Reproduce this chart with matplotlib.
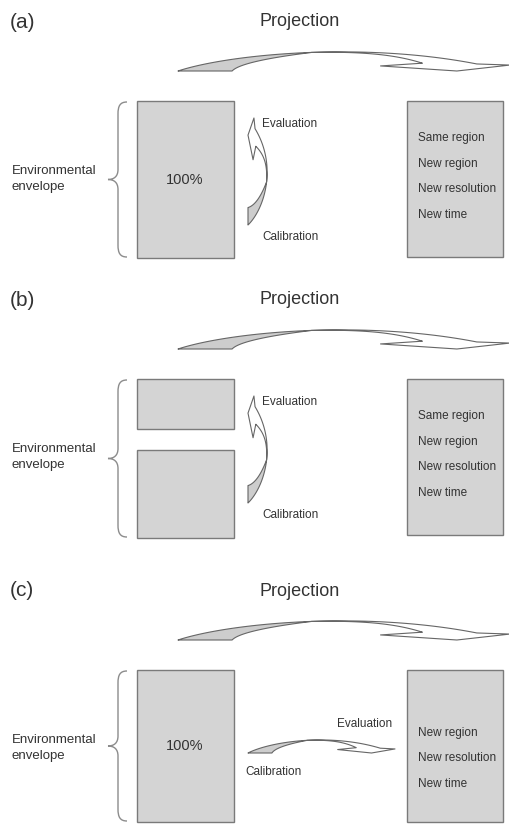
import numpy as np
import matplotlib.pyplot as plt
from matplotlib.patches import Rectangle, Polygon, PathPatch
from matplotlib.path import Path

plt.rcParams['font.family'] = ['Liberation Sans', 'DejaVu Sans']

# panel layout (pixel units, y down)
panel_labels = ['(a)', '(b)', '(c)']
panel_offsets = [0, 278, 569]
# left column: environmental envelope split into boxes (top, bottom)
left_boxes = [[(101, 258)], [(101, 151), (172, 260)], [(101, 253)]]
left_box_text = ['100%', '', '100%']
right_box_bottom = [257, 257, 253]
target_items = [['Same region', 'New region', 'New resolution', 'New time'],
                ['Same region', 'New region', 'New resolution', 'New time'],
                ['New region', 'New resolution', 'New time']]
calib_style = ['vertical', 'vertical', 'horizontal']

TXT = '#333333'
EDGE = '#7a7a7a'
BOXFILL = '#d4d4d4'
ARROWFILL = '#cdcdcd'


def bez(p, n=120):
    p = np.asarray(p, float)
    t = np.linspace(0, 1, n)[:, None]
    if len(p) == 3:
        return (1-t)**2*p[0] + 2*t*(1-t)*p[1] + t**2*p[2]
    return (1-t)**3*p[0] + 3*t*(1-t)**2*p[1] + 3*t**2*(1-t)*p[2] + t**3*p[3]


def ribbon_shape():
    # normalized curved arrow: u along length, v = bulge
    outer = bez([(0, 0), (0.15, 0.75), (0.55, 1.35), (0.9, 0.32)], 300)
    im = np.argmax(outer[:, 0] >= 0.40)
    M = outer[im]
    inner = bez([(0.163, 0), (0.19, 0.45), M], 80)
    gray = np.vstack([outer[:im + 1], inner[::-1]])
    tail = outer[im:]
    # lower edge of the white ribbon: hugs the top, then drops to the fold
    jf = np.argmax(outer[:, 0] >= 0.735)
    seg = outer[im:jf + 1]
    s = np.linspace(0, 1, len(seg))
    lower = np.column_stack([seg[:, 0], seg[:, 1] - (0.05 * np.sin(np.pi * s / 2)
                                                       + 0.28 * s ** 4)])
    head = np.array([(1.0, 0.27), (0.84, 0.0), (0.61, 0.23), lower[-1]])
    white = np.vstack([tail, head, lower[::-1]])
    return gray, white


GRAY_UV, WHITE_UV = ribbon_shape()


def draw_ribbon(ax, origin, eu, ev):
    o = np.asarray(origin, float)
    eu = np.asarray(eu, float)
    ev = np.asarray(ev, float)
    for uv, fc in [(GRAY_UV, ARROWFILL), (WHITE_UV, 'white')]:
        pts = o + uv[:, :1] * eu + uv[:, 1:] * ev
        ax.add_patch(Polygon(pts, closed=True, fc=fc, ec='#666666', lw=0.8,
                             joinstyle='round'))


def draw_brace(ax, yt, yb, xe=127, xm=118, xt=108):
    ym = (yt + yb) / 2
    verts = [(xe, yt), (xm + 2, yt), (xm, yt + 4), (xm, yt + 12),
             (xm, ym - 10),
             (xm, ym - 3), (xm - 4, ym), (xt, ym),
             (xm - 4, ym), (xm, ym + 3), (xm, ym + 10),
             (xm, yb - 12),
             (xm, yb - 4), (xm + 2, yb), (xe, yb)]
    codes = [Path.MOVETO] + [Path.CURVE4] * 3 + [Path.LINETO] + [Path.CURVE4] * 6 \
        + [Path.LINETO] + [Path.CURVE4] * 3
    ax.add_patch(PathPatch(Path(verts, codes), fc='none', ec='#8c8c8c', lw=1.0))


fig = plt.figure(figsize=(5.1, 8.26), dpi=100)
ax = fig.add_axes([0, 0, 1, 1])
ax.set_xlim(0, 510)
ax.set_ylim(826, 0)
ax.axis('off')

for i, off in enumerate(panel_offsets):
    ax.text(10, 22 + off, panel_labels[i], fontsize=15, color=TXT, va='center', ha='left')
    ax.text(300, 22 + off, 'Projection', fontsize=13, color=TXT, va='center', ha='center')
    draw_ribbon(ax, (178, 71 + off), (332, 0), (0, -22))

    # environmental envelope boxes
    for top, bot in left_boxes[i]:
        ax.add_patch(Rectangle((137, top + off), 97, bot - top, fc=BOXFILL, ec=EDGE, lw=1))
    tops = [b[0] for b in left_boxes[i]]
    bots = [b[1] for b in left_boxes[i]]
    if left_box_text[i]:
        ax.text(185, (tops[0] + bots[-1]) / 2 + off, left_box_text[i], fontsize=10.5,
                color=TXT, ha='center', va='center')
    draw_brace(ax, min(tops) + 1 + off, max(bots) - 1 + off)
    ax.text(12, 179 + off, 'Environmental\nenvelope', fontsize=9.5, color=TXT,
            ha='left', va='center', linespacing=1.35)

    # target box
    ax.add_patch(Rectangle((407, 101 + off), 96, right_box_bottom[i] - 101,
                           fc=BOXFILL, ec=EDGE, lw=1))
    items = target_items[i]
    for j, item in enumerate(items):
        y = 215 - 25.7 * (len(items) - 1 - j)
        ax.text(418, y + off, item, fontsize=8.5, color=TXT, ha='left', va='center')

    # calibration / evaluation arrow
    if calib_style[i] == 'vertical':
        draw_ribbon(ax, (248, 225 + off), (0, -107), (22, 0))
        ax.text(262, 124 + off, 'Evaluation', fontsize=8.5, color=TXT, ha='left', va='center')
        ax.text(262, 237 + off, 'Calibration', fontsize=8.5, color=TXT, ha='left', va='center')
    else:
        draw_ribbon(ax, (248, 184 + off), (147, 0), (0, -15))
        ax.text(337, 155 + off, 'Evaluation', fontsize=8.5, color=TXT, ha='left', va='center')
        ax.text(245, 203 + off, 'Calibration', fontsize=8.5, color=TXT, ha='left', va='center')

fig.savefig('out.png', dpi=100, facecolor='white')
